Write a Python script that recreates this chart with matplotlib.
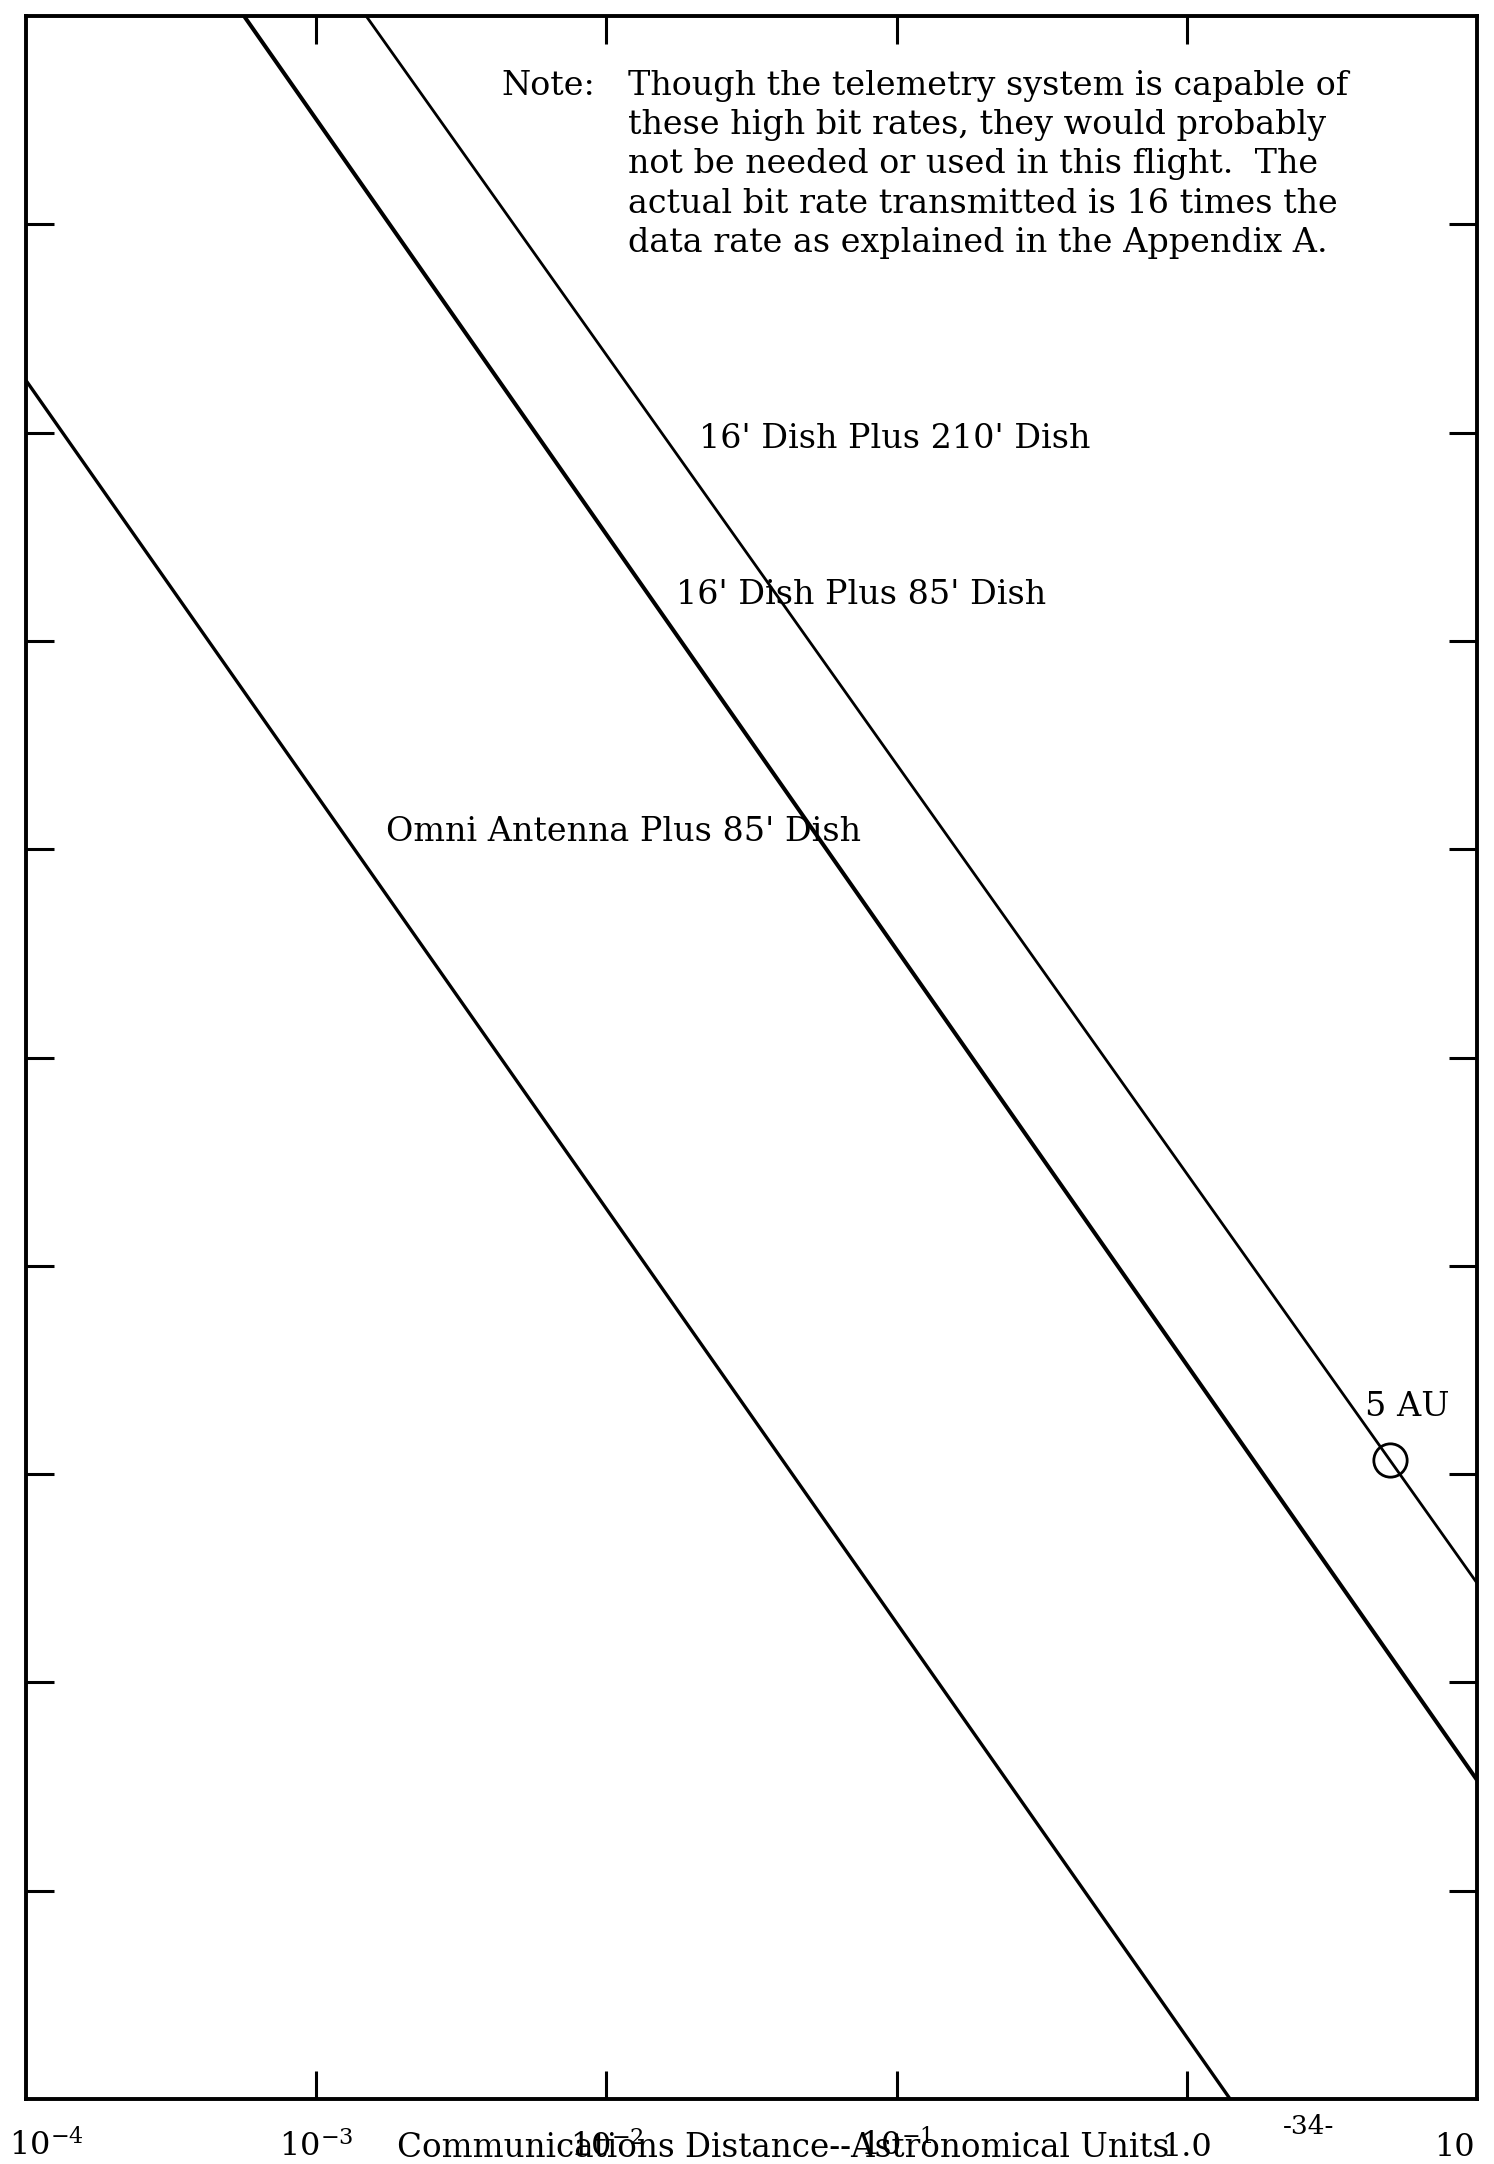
import matplotlib
matplotlib.use("Agg")
import matplotlib.pyplot as plt

plt.rcParams['font.family'] = ['DejaVu Serif']
plt.rcParams['mathtext.fontset'] = 'dejavuserif'

# ---- data (distance in AU, data rate, arbitrary decade units) ----
series_names = ["16' Dish Plus 210' Dish", "16' Dish Plus 85' Dish", "Omni Antenna Plus 85' Dish"]
dish210_x = [1.486e-3, 10.0]
dish210_y = [1.0e10, 300.0]
dish85_x = [5.64e-4, 10.0]
dish85_y = [1.0e10, 34.0]
omni_x = [1.0e-4, 1.41]
omni_y = [1.78e8, 1.0]
mark_x = [5.0]
mark_y = [1170.0]
mark_label = "5 AU"
xtick_vals = [1e-4, 1e-3, 1e-2, 1e-1, 1.0, 10.0]
xtick_labels = [r'$10^{-4}$', r'$10^{-3}$', r'$10^{-2}$', r'$10^{-1}$', '1.0', '10']
ytick_vals = [1e1, 1e2, 1e3, 1e4, 1e5, 1e6, 1e7, 1e8, 1e9]
x_title = "Communications Distance--Astronomical Units"
note_head = "Note:"
note_lines = ["Though the telemetry system is capable of",
              "these high bit rates, they would probably",
              "not be needed or used in this flight.  The",
              "actual bit rate transmitted is 16 times the",
              "data rate as explained in the Appendix A."]
page_no = "-34-"

W, H = 1494, 2164
fig = plt.figure(figsize=(W / 100, H / 100), dpi=100)
L, R, T, B = 26, 1477, 16, 2099
ax = fig.add_axes([L / W, 1 - B / H, (R - L) / W, (B - T) / H])
ax.set_xscale('log')
ax.set_yscale('log')
ax.set_xlim(1e-4, 10)
ax.set_ylim(1e0, 1e10)

ax.plot(dish210_x, dish210_y, color='black', lw=2.0, solid_capstyle='butt')
ax.plot(dish85_x, dish85_y, color='black', lw=2.9, solid_capstyle='butt')
ax.plot(omni_x, omni_y, color='black', lw=2.4, solid_capstyle='butt')
ax.plot(mark_x, mark_y, marker='o', ms=24, mfc='none', mec='black', mew=2.0, ls='none')

for s in ax.spines.values():
    s.set_linewidth(2.8)
ax.set_xticks(xtick_vals[1:-1])
ax.set_yticks(ytick_vals)
ax.minorticks_off()
ax.tick_params(axis='both', which='major', direction='in', length=20, width=2.2,
               top=True, right=True, labelbottom=False, labelleft=False)

def px(x, y):
    return x / W, 1 - y / H

FS = 24

# x tick labels (baseline aligned)
offsets = [20, 0, 0, 0, 0, -23]
for v, lab, off in zip(xtick_vals, xtick_labels, offsets):
    ax.annotate(lab, xy=(v, 0), xycoords=ax.get_xaxis_transform(),
                xytext=(off * 0.72, -57 * 0.72), textcoords='offset points',
                ha='center', va='baseline', fontsize=23)

fig.text(*px(783, 2148), x_title, ha='center', va='center', fontsize=23.5)
fig.text(*px(1309, 2126), page_no, ha='center', va='center', fontsize=19)

# note block
fig.text(*px(501, 86), note_head, ha='left', va='center', fontsize=FS)
for i, line in enumerate(note_lines):
    fig.text(*px(628, 86 + 39.2 * i), line, ha='left', va='center', fontsize=FS)

# series labels
fig.text(*px(895, 439), series_names[0], ha='center', va='center', fontsize=FS)
fig.text(*px(861, 595), series_names[1], ha='center', va='center', fontsize=FS)
fig.text(*px(623, 832), series_names[2], ha='center', va='center', fontsize=FS)
fig.text(*px(1407, 1407), mark_label, ha='center', va='center', fontsize=FS)

fig.savefig('out.png', dpi=100, facecolor='white')
